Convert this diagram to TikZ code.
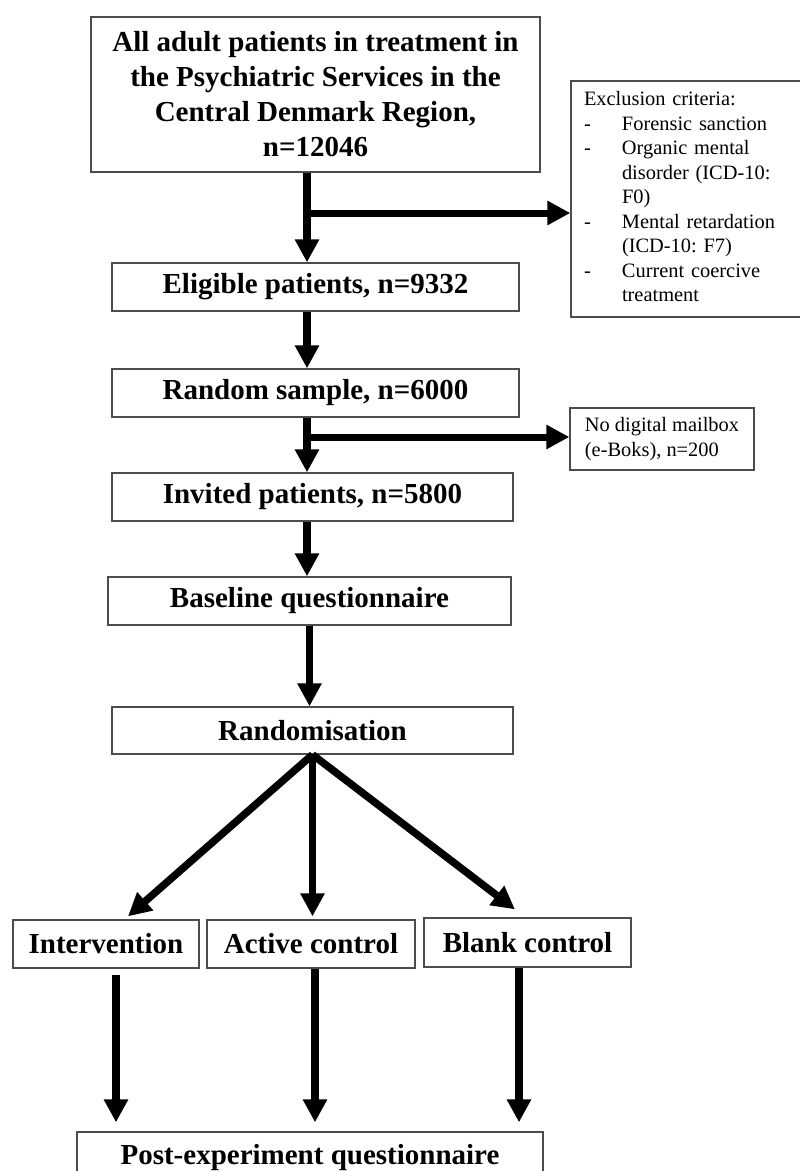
\documentclass[tikz,border=0pt]{standalone}
\usepackage{fontspec}
\setmainfont{Liberation Serif}
\usetikzlibrary{arrows.meta,calc}
\tikzset{flow box/.style={draw=black!70,line width=1.3pt,minimum height=48pt,inner sep=0pt,align=center,font=\bfseries\fontsize{29}{35}\selectfont},
	side box/.style={draw=black!70,line width=1.3pt,inner sep=0pt,align=left,font=\frenchspacing\fontsize{20.4}{24.5}\selectfont},
	flow arrow/.style={line width=7.5pt,-{Triangle[length=23pt,width=23pt]}},
	branch arrow/.style={line width=7pt,-{Triangle[length=23pt,width=23pt]}}}

\begin{document}
\begin{tikzpicture}[x=1pt,y=-1pt]
				\useasboundingbox (0,0) rectangle (800,1171);
				% main column
				\node[flow box,minimum width=449pt,minimum height=155pt] (all) at (315.5,94.5) {All adult patients in treatment in\\the Psychiatric Services in the\\Central Denmark Region,\\n=12046};
				\node[flow box,minimum width=407pt] (eligible) at (315.5,287) {Eligible patients, n=9332};
				\node[flow box,minimum width=407pt] (sample) at (315.5,393) {Random sample, n=6000};
				\node[flow box,minimum width=401pt] (invited) at (312.5,497) {Invited patients, n=5800};
				\node[flow box,minimum width=403pt] (baseline) at (309.5,601) {Baseline questionnaire};
				\node[flow box,minimum width=401pt,minimum height=47pt] (random) at (312.5,730.5) {Randomisation};
				\node[flow box,minimum width=186pt] (interv) at (106,944) {Intervention};
				\node[flow box,minimum width=208pt] (active) at (311,944) {Active control};
				\node[flow box,minimum width=207pt,minimum height=49pt] (blank) at (527.5,942.5) {Blank control};
				\node[flow box,minimum width=466pt,minimum height=52pt] (post) at (310,1158) {Post-experiment questionnaire};
				% side boxes
				\node[side box,text width=254pt,inner xsep=13pt,minimum height=236pt] (excl) at (711,199) {\begin{tabular}{@{}p{38pt}@{}l@{}}
						\multicolumn{2}{@{}l@{}}{Exclusion criteria:}\\
						-&Forensic sanction\\
						-&Organic mental\\
						&disorder (ICD-10:\\
						&F0)\\
						-&Mental retardation\\
						&(ICD-10: F7)\\
						-&Current coercive\\
						&treatment
					\end{tabular}};
				\node[side box,minimum width=184pt,minimum height=62pt] (nomail) at (662,439) {No digital mailbox\\(e-Boks), n=200};
				\coordinate (fork1) at (307,213);
				\coordinate (fork2) at (307,437);
				% arrows
				\draw[flow arrow] ([xshift=-8.5pt]all.south) -- ([xshift=-8.5pt]all.south |- eligible.north);
				\draw[branch arrow] (fork1) -- (fork1 -| excl.west);
				\draw[flow arrow] ([xshift=-8.5pt]eligible.south) -- ([xshift=-8.5pt]eligible.south |- sample.north);
				\draw[flow arrow] ([xshift=-8.5pt]sample.south) -- ([xshift=-8.5pt]sample.south |- invited.north);
				\draw[branch arrow] (fork2) -- (fork2 -| nomail.west);
				\draw[flow arrow] ([xshift=-5.5pt]invited.south) -- ([xshift=-5.5pt]invited.south |- baseline.north);
				\draw[flow arrow] (baseline.south) -- (baseline.south |- random.north);
				\draw[flow arrow] (random.south) -- ([xshift=22pt,yshift=3pt]interv.north);
				\draw[flow arrow] (random.south) -- ([yshift=3pt]random.south |- active.north);
				\draw[flow arrow] (random.south) -- ([xshift=-12.5pt,yshift=8pt]blank.north);
				\draw[flow arrow] ([xshift=10pt,yshift=-6pt]interv.south) -- ([xshift=10pt,yshift=9pt]interv.south |- post.north);
				\draw[flow arrow] ([xshift=4pt]active.south) -- ([xshift=4pt,yshift=9pt]active.south |- post.north);
				\draw[flow arrow] ([xshift=-8.5pt]blank.south) -- ([xshift=-8.5pt,yshift=9pt]blank.south |- post.north);
			\end{tikzpicture}
\end{document}
